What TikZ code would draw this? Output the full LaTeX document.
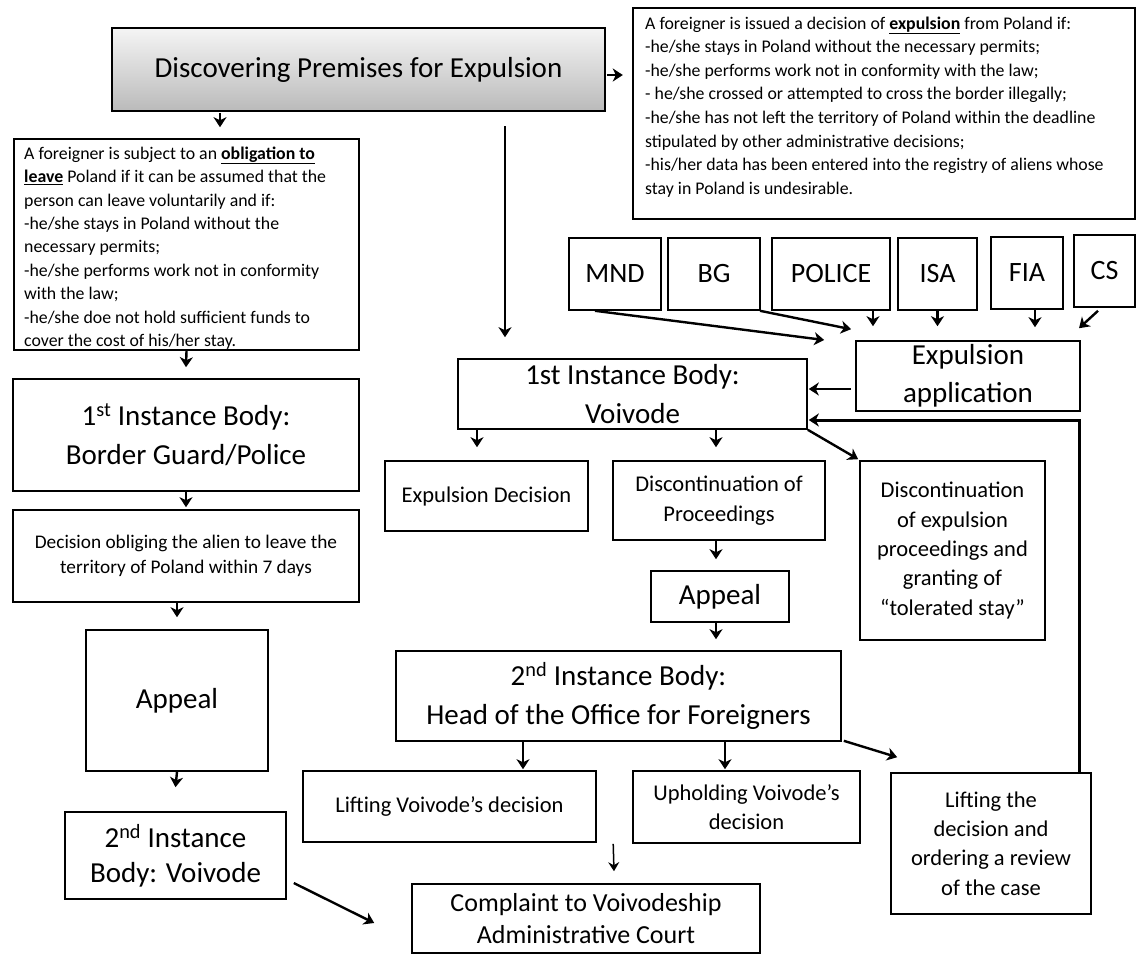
\documentclass[tikz,border=0pt]{standalone}
\usepackage{fontspec}
\setmainfont{Carlito}
\usetikzlibrary{arrows.meta,calc}
\begin{document}
\begin{tikzpicture}[x=1pt,y=-1pt,
  bx/.style={draw,line width=1.6pt,inner sep=0pt,align=center},
  arr/.style={line width=2.4pt,-{Stealth[length=10pt,width=13pt,inset=3pt]}},
  thinarr/.style={line width=1.5pt,-{Stealth[length=9pt,width=11pt,inset=3pt]}},
  fbig/.style={font=\fontsize{29}{38.5}\selectfont},
  frow/.style={font=\fontsize{28}{34}\selectfont},
  fsm/.style={font=\fontsize{22.5}{29.3}\selectfont},
  finfo/.style={font=\fontsize{17.8}{23.6}\selectfont},
]
\useasboundingbox (0,0) rectangle (1146,954);

% top
\node[bx,minimum width=493pt,minimum height=83pt,top color=black!4,bottom color=black!27,fbig] (top) at (358.5,69.5) {Discovering Premises for Expulsion};

% info boxes
\node[bx,minimum width=502pt,minimum height=211pt] (rtext) at (884,113.5) {};
\node[anchor=north west,inner sep=0pt,align=left,finfo] (rtextT) at (645,16.5) {%
A foreigner is issued a decision of \underline{\textbf{expulsion}} from Poland if:\\
-he/she stays in Poland without the necessary permits;\\
-he/she performs work not in conformity with the law;\\
- he/she crossed or attempted to cross the border illegally;\\
-he/she has not left the territory of Poland within the deadline\\
stipulated by other administrative decisions;\\
-his/her data has been entered into the registry of aliens whose\\
stay in Poland is undesirable.};

\node[bx,minimum width=345pt,minimum height=211pt] (ltext) at (186.5,244.5) {};
\node[anchor=north west,inner sep=0pt,align=left,font=\fontsize{17.8}{23.4}\selectfont] (ltextT) at (24,146.5) {%
A foreigner is subject to an \underline{\textbf{obligation to}}\\
\underline{\textbf{leave}} Poland if it can be assumed that the\\
person can leave voluntarily and if:\\
-he/she stays in Poland without the\\
necessary permits;\\
-he/she performs work not in conformity\\
with the law;\\
-he/she doe not hold sufficient funds to\\
cover the cost of his/her stay.};

% left column
\node[bx,minimum width=346pt,minimum height=112pt,font=\fontsize{29}{39}\selectfont] (bgp) at (186,435) {1\textsuperscript{st} Instance Body:\\Border Guard/Police};
\node[bx,minimum width=346pt,minimum height=92pt,font=\fontsize{19.3}{25}\selectfont] (dec7) at (186,556) {Decision obliging the alien to leave the\\territory of Poland within 7 days};
\node[bx,minimum width=182pt,minimum height=141pt,fbig] (appL) at (177,700.5) {Appeal};
\node[bx,minimum width=221pt,minimum height=87pt,font=\fontsize{29}{35}\selectfont] (inst2L) at (175.5,855.5) {2\textsuperscript{nd} Instance\\Body: Voivode};

% applicants row
\node[bx,minimum width=92pt,minimum height=72pt,frow] (mnd) at (615,274) {MND};
\node[bx,minimum width=92pt,minimum height=72pt,frow] (bgb) at (714,274) {BG};
\node[bx,minimum width=118pt,minimum height=72pt,frow] (pol) at (831,274) {POLICE};
\node[bx,minimum width=79pt,minimum height=72pt,frow] (isa) at (937.5,274) {ISA};
\node[bx,minimum width=72pt,minimum height=72pt,frow] (fia) at (1027,273) {FIA};
\node[bx,minimum width=61pt,minimum height=72pt,frow] (cs) at (1104.5,271) {CS};

% middle
\node[bx,minimum width=224pt,minimum height=70pt,fbig] (expapp) at (968,376) {Expulsion\\application};
\node[bx,minimum width=349pt,minimum height=70pt,fbig] (voiv1) at (632.5,394) {1st Instance Body:\\Voivode};
\node[bx,minimum width=203pt,minimum height=70pt,fsm] (expdec) at (486.5,496) {Expulsion Decision};
\node[bx,minimum width=212pt,minimum height=79pt,fsm] (discont) at (719,500.5) {Discontinuation of\\Proceedings};
\node[bx,minimum width=185pt,minimum height=179pt,fsm] (toler) at (952.5,550.5) {Discontinuation\\of expulsion\\proceedings and\\granting of\\“tolerated stay”};
\node[bx,minimum width=138pt,minimum height=51pt,fbig] (appS) at (720,596.5) {Appeal};
\node[bx,minimum width=445pt,minimum height=90pt,font=\fontsize{29}{39}\selectfont] (head) at (618.5,696) {2\textsuperscript{nd} Instance Body:\\Head of the Office for Foreigners};
\node[bx,minimum width=293pt,minimum height=71pt,fsm] (liftV) at (449.5,806.5) {Lifting Voivode’s decision};
\node[bx,minimum width=227pt,minimum height=72pt,fsm] (uphold) at (746.5,807) {Upholding Voivode’s\\decision};
\node[bx,minimum width=200pt,minimum height=141pt,fsm] (liftR) at (991,843.5) {Lifting the\\decision and\\ordering a review\\of the case};
\node[bx,minimum width=348pt,minimum height=69pt,font=\fontsize{26}{32}\selectfont] (compl) at (586,918.5) {Complaint to Voivodeship\\Administrative Court};

\coordinate (v0) at (505,126);

% connectors
\draw[arr] ($(top.east)+(1,5.5)$) -- ($(top.east)+(17,5.5)$);
\draw[arr] ($(top.south)+(-138.5,1)$) -- ($(ltext.north)+(33.5,-11)$);
\draw[arr] (v0) -- ($(voiv1.north)+(-127.5,-21)$);
\draw[arr] (ltext.south) -- ($(bgp.north)+(0,-11)$);
\draw[arr] (bgp.south) -- ($(dec7.north)+(0,-2)$);
\draw[arr] ($(dec7.south)+(-9,0)$) -- ($(appL.north)+(0,-12)$);
\draw[arr] (appL.south) -- ($(inst2L.north)+(0,-24)$);
\draw[arr] ($(inst2L.east)+(7,27.5)$) -- ($(compl.west)+(-37,4.5)$);

\draw[arr] ($(mnd.south)+(-20,0)$) -- ($(expapp.west)+(-31,-36)$);
\draw[arr] ($(bgb.south)+(46,0)$) -- ($(expapp.north)+(-117,-11)$);
\draw[arr] ($(pol.south)+(42,0)$) -- ($(expapp.north)+(-95,-14)$);
\draw[arr] (isa.south) -- ($(expapp.north)+(-30.5,-14)$);
\draw[arr] ($(fia.south)+(8,0)$) -- ($(expapp.north)+(67,-13)$);
\draw[arr] ($(cs.south)+(-6.5,3)$) -- ($(expapp.north)+(111,-12)$);

\draw[arr] ($(expapp.west)+(-4,13)$) -- ($(voiv1.east)+(1,-5)$);
\draw[line width=3pt,-{Stealth[length=10pt,width=13pt,inset=3pt]}] ($(liftR.north)+(88,0)$) |- ($(voiv1.east)+(1,26)$);

\draw[arr] ($(voiv1.south)+(-155.5,0)$) -- ($(expdec.north)+(-9.5,-13)$);
\draw[arr] ($(voiv1.south)+(83.5,0)$) -- ($(discont.north)+(-3,-13)$);
\draw[arr] (voiv1.south east) -- ($(toler.north west)+(-1,-1)$);
\draw[arr] ($(discont.south)+(-3,0)$) -- ($(appS.north)+(-4,-11)$);
\draw[arr] ($(appS.south)+(-4,0)$) -- ($(head.north)+(97.5,-11)$);
\draw[arr] ($(head.south)+(106.5,0)$) -- ($(uphold.north)+(-21.5,-1)$);
\draw[arr] ($(head.south)+(-95.5,0)$) -- ($(liftV.north)+(73.5,-1)$);
\draw[arr] ($(head.south east)+(2,-1)$) -- ($(liftR.north west)+(7,-15)$);
\draw[thinarr] ($(uphold.south west)+(-19,0)$) -- ($(compl.north)+(28,-12)$);
\end{tikzpicture}
\end{document}
